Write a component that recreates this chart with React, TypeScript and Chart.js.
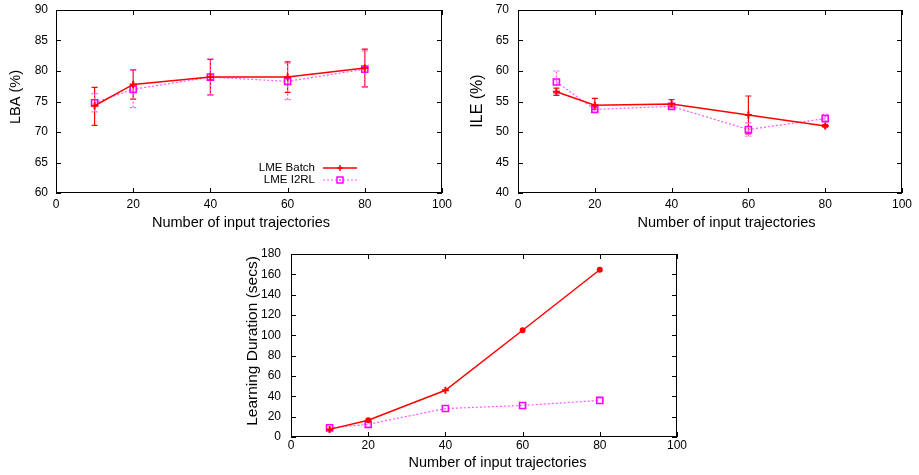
import React, { useEffect, useRef } from 'react';
import { Chart, registerables } from 'chart.js';

Chart.register(...registerables);

// ---------- data ----------
const xValues = [10, 20, 40, 60, 80];

const lbaBatch = [74.3, 77.8, 79.0, 79.0, 80.5];
const lbaBatchLo = [71.1, 75.4, 76.1, 76.5, 77.4];
const lbaBatchHi = [77.3, 80.2, 81.9, 81.5, 83.6];
const lbaI2rl = [74.8, 77.0, 79.0, 78.3, 80.3];
const lbaI2rlLo = [73.3, 74.0, 76.1, 75.3, 77.3];
const lbaI2rlHi = [76.3, 80.1, 82.0, 81.3, 83.3];

const ileBatch = [56.6, 54.4, 54.6, 52.8, 51.0];
const ileBatchLo = [56.0, 53.7, 54.2, 49.7, 50.8];
const ileBatchHi = [57.2, 55.5, 55.3, 55.9, 51.2];
const ileI2rl = [58.2, 53.7, 54.2, 50.4, 52.2];
const ileI2rlLo = [56.3, 53.4, 54.0, 49.3, 51.7];
const ileI2rlHi = [60.0, 54.0, 54.5, 51.5, 52.9];

const durBatch = [7.5, 16.5, 46, 105, 164.5];
const durI2rl = [9, 12.5, 28, 31, 36];

const seriesNames = ['LME Batch', 'LME I2RL'];
const xTitle = 'Number of input trajectories';

const FONT = '"Liberation Sans", Arial, Helvetica, sans-serif';
const RED = '#ff0000';
const MAGENTA = '#ff00ff';
const PINK = '#ff55ff';

type Panel = {
  left: number; top: number; width: number; height: number;
  plot: { l: number; t: number; r: number; b: number };
  yMin: number; yMax: number; yStep: number;
  yTitle: string; yTitleSize: number; yTitlePos: { x: number; y: number };
  xTitlePos: { x: number; y: number };
  yPad: number; xPad: number;
  batch: number[]; batchLo?: number[]; batchHi?: number[];
  i2rl: number[]; i2rlLo?: number[]; i2rlHi?: number[];
  batchStyles?: any;
  batchRadius?: any;
  legend?: { textRight: number; y1: number; y2: number; x1: number; x2: number };
};

function drawPlus(ctx: CanvasRenderingContext2D, x: number, y: number, r: number) {
  ctx.beginPath();
  ctx.moveTo(x - r, y); ctx.lineTo(x + r, y);
  ctx.moveTo(x, y - r); ctx.lineTo(x, y + r);
  ctx.stroke();
}
function drawSquare(ctx: CanvasRenderingContext2D, x: number, y: number, h: number) {
  ctx.beginPath();
  ctx.rect(x - h, y - h, 2 * h, 2 * h);
  ctx.stroke();
  ctx.fillStyle = ctx.strokeStyle as string;
  ctx.fillRect(x - 0.6, y - 0.6, 1.2, 1.2);
}

function ChartPanel({ p }: { p: Panel }) {
  const ref = useRef<HTMLCanvasElement | null>(null);
  useEffect(() => {
    const canvas = ref.current!;
    const pts = (arr: number[]) => xValues.map((x, i) => ({ x, y: arr[i] }));

    const deco = {
      id: 'deco',
      beforeDatasetsDraw(chart: any) {
        const ctx = chart.ctx as CanvasRenderingContext2D;
        const xs = chart.scales.x, ys = chart.scales.y;
        chart.data.datasets.forEach((ds: any) => {
          if (!ds.errLo) return;
          ctx.save();
          ctx.strokeStyle = ds.errColor;
          ctx.lineWidth = 1.2;
          ctx.setLineDash(ds.errDash || []);
          xValues.forEach((xv, i) => {
            const px = xs.getPixelForValue(xv);
            const lo = ys.getPixelForValue(ds.errLo[i]);
            const hi = ys.getPixelForValue(ds.errHi[i]);
            ctx.beginPath();
            ctx.moveTo(px, lo); ctx.lineTo(px, hi);
            ctx.moveTo(px - 3, lo); ctx.lineTo(px + 3, lo);
            ctx.moveTo(px - 3, hi); ctx.lineTo(px + 3, hi);
            ctx.stroke();
          });
          ctx.restore();
        });
      },
      afterDraw(chart: any) {
        const ctx = chart.ctx as CanvasRenderingContext2D;
        const a = chart.chartArea;
        const xs = chart.scales.x, ys = chart.scales.y;
        ctx.save();
        ctx.strokeStyle = '#000';
        ctx.lineWidth = 1;
        ctx.setLineDash([]);
        ctx.strokeRect(Math.round(a.left) + 0.5, Math.round(a.top) + 0.5,
          Math.round(a.right - a.left) - 1, Math.round(a.bottom - a.top) - 1);
        const tl = 5;
        ctx.beginPath();
        xs.ticks.forEach((t: any) => {
          const px = Math.round(xs.getPixelForValue(t.value)) + 0.5;
          ctx.moveTo(px, a.bottom); ctx.lineTo(px, a.bottom - tl);
          ctx.moveTo(px, a.top); ctx.lineTo(px, a.top + tl);
        });
        ys.ticks.forEach((t: any) => {
          const py = Math.round(ys.getPixelForValue(t.value)) + 0.5;
          ctx.moveTo(a.left, py); ctx.lineTo(a.left + tl, py);
          ctx.moveTo(a.right, py); ctx.lineTo(a.right - tl, py);
        });
        ctx.stroke();

        // axis titles
        ctx.fillStyle = '#000';
        ctx.font = `14.5px ${FONT}`;
        ctx.textAlign = 'center';
        ctx.textBaseline = 'alphabetic';
        ctx.fillText(xTitle, p.xTitlePos.x, p.xTitlePos.y);
        ctx.save();
        ctx.translate(p.yTitlePos.x, p.yTitlePos.y);
        ctx.rotate(-Math.PI / 2);
        ctx.font = `${p.yTitleSize}px ${FONT}`;
        ctx.fillText(p.yTitle, 0, 0);
        ctx.restore();

        // legend
        if (p.legend) {
          const L = p.legend;
          ctx.font = `11.5px ${FONT}`;
          ctx.textAlign = 'right';
          ctx.textBaseline = 'middle';
          ctx.fillStyle = '#000';
          ctx.fillText(seriesNames[0], L.textRight, L.y1);
          ctx.fillText(seriesNames[1], L.textRight, L.y2);
          const mx = (L.x1 + L.x2) / 2;
          ctx.strokeStyle = RED;
          ctx.lineWidth = 1.5;
          ctx.beginPath(); ctx.moveTo(L.x1, L.y1); ctx.lineTo(L.x2, L.y1); ctx.stroke();
          drawPlus(ctx, mx, L.y1, 3);
          ctx.strokeStyle = PINK;
          ctx.lineWidth = 1.2;
          ctx.setLineDash([2, 2]);
          ctx.beginPath(); ctx.moveTo(L.x1, L.y2); ctx.lineTo(L.x2, L.y2); ctx.stroke();
          ctx.setLineDash([]);
          ctx.strokeStyle = MAGENTA;
          ctx.lineWidth = 1.5;
          drawSquare(ctx, mx, L.y2, 3);
        }
        ctx.restore();
      },
    };

    const W = p.width, H = p.height;
    const chart = new Chart(canvas, {
      type: 'line',
      data: {
        datasets: [
          {
            label: seriesNames[0],
            data: pts(p.batch),
            borderColor: RED,
            backgroundColor: RED,
            borderWidth: 1.5,
            pointStyle: p.batchStyles || 'cross',
            pointRadius: p.batchRadius || 3.5,
            pointBorderWidth: 2,
            pointBackgroundColor: RED,
            pointBorderColor: RED,
            tension: 0,
            errLo: p.batchLo, errHi: p.batchHi, errColor: RED, errDash: [],
          } as any,
          {
            label: seriesNames[1],
            data: pts(p.i2rl),
            borderColor: PINK,
            backgroundColor: 'rgba(0,0,0,0)',
            borderWidth: 1.2,
            borderDash: [2, 2],
            pointStyle: 'rect',
            pointRadius: 4.3,
            pointBorderWidth: 1.6,
            pointBorderColor: MAGENTA,
            pointBackgroundColor: 'rgba(255,255,255,0)',
            tension: 0,
            errLo: p.i2rlLo, errHi: p.i2rlHi, errColor: PINK, errDash: [2, 2],
          } as any,
        ],
      },
      options: {
        animation: false,
        responsive: false,
        devicePixelRatio: 1,
        layout: { padding: { left: 0, top: p.plot.t, right: W - p.plot.r, bottom: 0 } },
        plugins: { legend: { display: false }, tooltip: { enabled: false }, title: { display: false } },
        scales: {
          x: {
            type: 'linear',
            min: 0, max: 100,
            grid: { display: false, drawTicks: false },
            border: { display: false },
            ticks: { stepSize: 20, color: '#000', font: { size: 12, family: FONT }, padding: p.xPad, maxRotation: 0 },
            afterFit: (s: any) => { s.height = H - p.plot.b; s.paddingLeft = 0; s.paddingRight = 0; },
          },
          y: {
            type: 'linear',
            min: p.yMin, max: p.yMax,
            grid: { display: false, drawTicks: false },
            border: { display: false },
            ticks: { stepSize: p.yStep, color: '#000', font: { size: 12, family: FONT }, padding: p.yPad },
            afterFit: (s: any) => { s.width = p.plot.l; s.paddingTop = 0; s.paddingBottom = 0; },
          },
        },
      } as any,
      plugins: [deco],
    });
    return () => chart.destroy();
  }, []);
  return (
    <canvas
      ref={ref}
      width={p.width}
      height={p.height}
      style={{ position: 'absolute', left: p.left, top: p.top, width: p.width, height: p.height }}
    />
  );
}

const panels: Panel[] = [
  {
    left: 0, top: 0, width: 460, height: 240,
    plot: { l: 56, t: 10, r: 442, b: 193 },
    yMin: 60, yMax: 90, yStep: 5,
    yTitle: 'LBA (%)', yTitleSize: 14.5, yTitlePos: { x: 20, y: 97 },
    xTitlePos: { x: 241, y: 227 },
    yPad: 8, xPad: 4,
    batch: lbaBatch, batchLo: lbaBatchLo, batchHi: lbaBatchHi,
    i2rl: lbaI2rl, i2rlLo: lbaI2rlLo, i2rlHi: lbaI2rlHi,
    legend: { textRight: 315, y1: 168, y2: 180, x1: 323, x2: 357 },
  },
  {
    left: 459, top: 0, width: 460, height: 240,
    plot: { l: 59, t: 10, r: 443, b: 193 },
    yMin: 40, yMax: 70, yStep: 5,
    yTitle: 'ILE (%)', yTitleSize: 16, yTitlePos: { x: 23, y: 101 },
    xTitlePos: { x: 267.5, y: 227 },
    yPad: 9, xPad: 4,
    batch: ileBatch, batchLo: ileBatchLo, batchHi: ileBatchHi,
    i2rl: ileI2rl, i2rlLo: ileI2rlLo, i2rlHi: ileI2rlHi,
  },
  {
    left: 230, top: 240, width: 460, height: 235,
    plot: { l: 61, t: 14, r: 447, b: 197 },
    yMin: 0, yMax: 180, yStep: 20,
    yTitle: 'Learning Duration (secs)', yTitleSize: 15.5, yTitlePos: { x: 27, y: 101 },
    xTitlePos: { x: 267.5, y: 227 },
    yPad: 10, xPad: 1,
    batch: durBatch, i2rl: durI2rl,
    batchStyles: ['cross', 'circle', 'cross', 'circle', 'circle'],
    batchRadius: [3.5, 2, 3.5, 2, 2],
  },
];

export default function App() {
  return (
    <div style={{ position: 'absolute', left: 0, top: 0, width: 919, height: 475, background: '#fff' }}>
      {panels.map((p, i) => <ChartPanel key={i} p={p} />)}
    </div>
  );
}
